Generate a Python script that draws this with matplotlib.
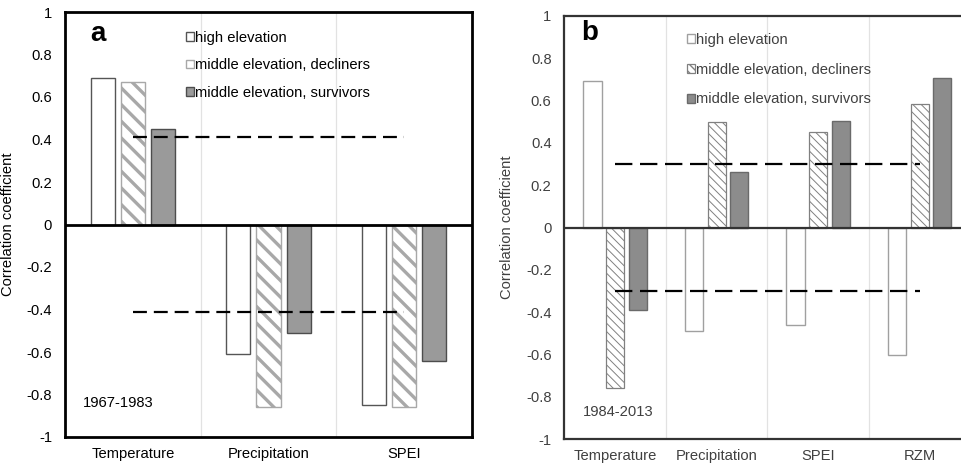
import matplotlib
matplotlib.use("Agg")
import matplotlib.pyplot as plt
import numpy as np
from matplotlib.patches import Patch

plt.rcParams["font.family"] = ["Liberation Sans", "DejaVu Sans"]
plt.rcParams["lines.scale_dashes"] = False

series = ["high elevation", "middle elevation, decliners", "middle elevation, survivors"]

# Panel a: 1967-1983
cats_a = ["Temperature", "Precipitation", "SPEI"]
high_a = [0.69, -0.61, -0.85]
decl_a = [0.67, -0.86, -0.86]
surv_a = [0.45, -0.51, -0.64]
thresh_a = 0.41
period_a = "1967-1983"

# Panel b: 1984-2013
cats_b = ["Temperature", "Precipitation", "SPEI", "RZM"]
high_b = [0.69, -0.49, -0.46, -0.60]
decl_b = [-0.76, 0.50, 0.45, 0.585]
surv_b = [-0.39, 0.26, 0.505, 0.705]
thresh_b = 0.30
period_b = "1984-2013"

yticks = [-1, -0.8, -0.6, -0.4, -0.2, 0, 0.2, 0.4, 0.6, 0.8, 1]
ytick_labels = ["-1", "-0.8", "-0.6", "-0.4", "-0.2", "0", "0.2", "0.4", "0.6", "0.8", "1"]

fig = plt.figure(figsize=(9.62, 4.67), dpi=100)
ax_a = fig.add_axes([65 / 962, 30 / 467, 407 / 962, 425 / 467])
ax_b = fig.add_axes([564.3 / 962, 27.7 / 467, 406 / 962, 423.6 / 467])

W = 0.178
OFF = 0.222


def set_hlw(bars, lw):
    for b in bars:
        if hasattr(b, "set_hatch_linewidth"):
            b.set_hatch_linewidth(lw)


def panel(ax, cats, vals, styles, thresh, period, letter, txtcolor, framecolor,
          framelw, dash, legend_spacing, legend_anchor, letter_xy, period_xy):
    x = np.arange(len(cats))
    handles = []
    for k, (v, st) in enumerate(zip(vals, styles)):
        with plt.rc_context({"hatch.linewidth": st.get("hlw", 1.0)}):
            bars = ax.bar(x + (k - 1) * OFF, v, width=W, facecolor=st["fc"],
                          edgecolor=st["ec"], linewidth=st["lw"],
                          hatch=st.get("hatch"), zorder=2)
            set_hlw(bars, st.get("hlw", 1.0))
            h = Patch(facecolor=st["fc"], edgecolor=st["ec"], linewidth=st["lw"],
                      hatch=st.get("hatch"))
            if hasattr(h, "set_hatch_linewidth"):
                h.set_hatch_linewidth(st.get("hlw", 1.0))
        handles.append(h)

    # significance thresholds
    for t in (thresh, -thresh):
        ax.plot([x[0], x[-1]], [t, t], color="black", lw=1.6,
                dashes=dash, zorder=3)

    ax.axhline(0, color=framecolor, lw=framelw, zorder=4)
    ax.set_xlim(-0.5, len(cats) - 0.5)
    ax.set_ylim(-1, 1)
    ax.set_yticks(yticks)
    ax.set_yticklabels(ytick_labels)
    ax.set_xticks(x)
    ax.set_xticklabels(cats)
    ax.set_xticks(np.arange(len(cats) - 1) + 0.5, minor=True)
    ax.grid(True, which="minor", axis="x", color="#e2e2e2", lw=0.9, zorder=0)
    ax.tick_params(axis="both", which="both", length=0, labelsize=10.6,
                   colors=txtcolor)
    ax.tick_params(axis="y", pad=9.2)
    ax.tick_params(axis="x", pad=7.0)
    for s in ax.spines.values():
        s.set_color(framecolor)
        s.set_linewidth(framelw)
    ax.set_ylabel("Correlation coefficient", fontsize=10.6, color=txtcolor)
    ax.yaxis.set_label_coords(-0.123, 0.5)

    ax.text(letter_xy[0], letter_xy[1], letter, transform=ax.transAxes,
            fontsize=20, fontweight="bold", ha="center", va="center",
            color="black")
    ax.text(period_xy[0], period_xy[1], period, transform=ax.transAxes,
            fontsize=10.6, ha="left", va="center", color=txtcolor)

    leg = ax.legend(handles, series, loc="upper left", bbox_to_anchor=legend_anchor,
                    frameon=False, fontsize=10.6, handlelength=0.55,
                    handleheight=0.55, handletextpad=0.1, borderpad=0,
                    borderaxespad=0, labelspacing=legend_spacing)
    for t in leg.get_texts():
        t.set_color(txtcolor)


styles_a = [
    dict(fc="white", ec="#555555", lw=1.0),
    dict(fc="white", ec="#a8a8a8", lw=1.0, hatch="\\\\", hlw=2.4),
    dict(fc="#9a9a9a", ec="#4d4d4d", lw=1.0),
]
styles_b = [
    dict(fc="white", ec="#a0a0a0", lw=1.0),
    dict(fc="white", ec="#808080", lw=0.9, hatch="\\\\\\\\", hlw=0.7),
    dict(fc="#8c8c8c", ec="#6a6a6a", lw=1.0),
]

panel(ax_a, cats_a, [high_a, decl_a, surv_a], styles_a, thresh_a, period_a, "a",
      "black", "black", 2.0, (10, 5), 0.92, (0.297, 0.956), (0.081, 0.948),
      (0.044, 0.08))
panel(ax_b, cats_b, [high_b, decl_b, surv_b], styles_b, thresh_b, period_b, "b",
      "#404040", "#333333", 1.6, (12.5, 5.5), 1.08, (0.302, 0.96), (0.063, 0.959),
      (0.046, 0.064))

fig.savefig("out.png", dpi=100)
